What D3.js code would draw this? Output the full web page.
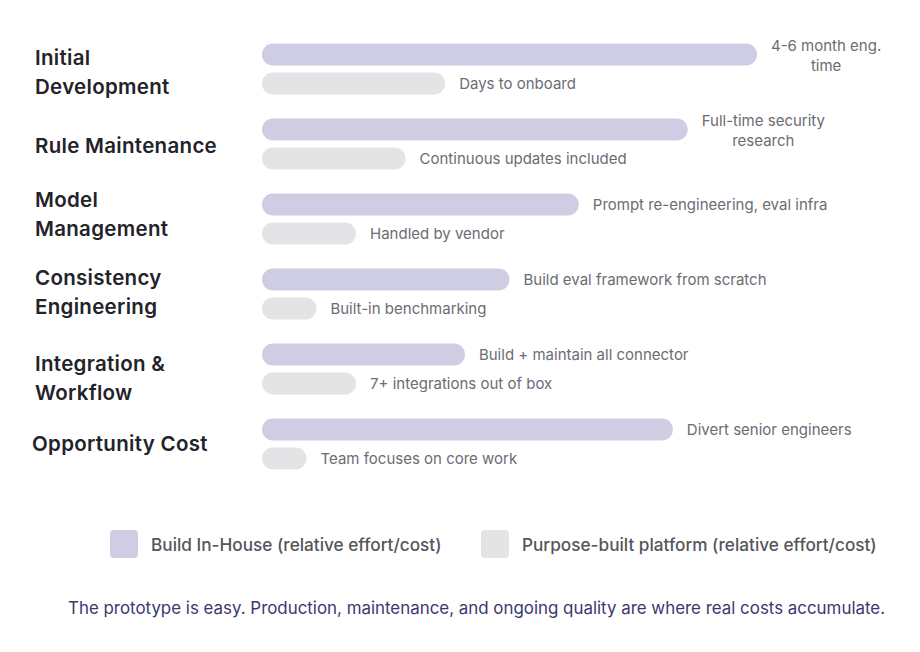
<!DOCTYPE html>
<html>
<head>
<meta charset="utf-8">
<script src="https://cdn.jsdelivr.net/npm/d3@7"></script>
<style>
  body { margin: 0; background: #fff; }
  svg { display: block; font-family: Inter, "Open Sans", sans-serif; }
</style>
</head>
<body>
<svg id="chart"></svg>
<script>
// categories (line breaks as in the picture)
const categories = [
  "Initial\nDevelopment",
  "Rule Maintenance",
  "Model\nManagement",
  "Consistency\nEngineering",
  "Integration &\nWorkflow",
  "Opportunity Cost"
];
// relative effort / cost
const buildValues = [100, 86, 64, 50, 41, 83];
const platformValues = [37, 29, 19, 11, 19, 9];
const buildNotes = [
  "4-6 month eng.\ntime",
  "Full-time security\nresearch",
  "Prompt re-engineering, eval infra",
  "Build eval framework from scratch",
  "Build + maintain all connector",
  "Divert senior engineers"
];
const platformNotes = [
  "Days to onboard",
  "Continuous updates included",
  "Handled by vendor",
  "Built-in benchmarking",
  "7+ integrations out of box",
  "Team focuses on core work"
];
const seriesNames = [
  "Build In-House (relative effort/cost)",
  "Purpose-built platform (relative effort/cost)"
];
const footnote = "The prototype is easy. Production, maintenance, and ongoing quality are where real costs accumulate.";

const width = 920, height = 652;
const colors = ["#cfcde3", "#e4e4e6"];
const barH = 22;
// small nudges of the category labels, as laid out in the original
const labelShift = [3, 2, -5, -2, 9, 0];

const svg = d3.select("#chart").attr("width", width).attr("height", height);

const rows = categories.map((c, i) => ({
  cat: c, build: buildValues[i], platform: platformValues[i],
  buildNote: buildNotes[i], platformNote: platformNotes[i]
}));

const yScale = d3.scalePoint()
  .domain(categories)
  .range([69, 444]);

const xScale = d3.scaleLinear()
  .domain([0, 100])
  .range([262, 757]);

// category labels
const catG = svg.append("g");
rows.forEach((d, i) => {
  const lines = d.cat.split("\n");
  const cy = yScale(d.cat) + labelShift[i];
  const t = catG.append("text")
    .attr("font-size", 20.5)
    .attr("font-weight", 600)
    .attr("letter-spacing", 0.3)
    .attr("fill", "#232329");
  lines.forEach((l, j) => {
    t.append("tspan")
      .attr("x", i === 5 ? 32 : 35)
      .attr("y", cy + (j - (lines.length - 1) / 2) * 29)
      .attr("dy", "0.35em")
      .text(l);
  });
});

const offsets = [-14.5, 14.5];
const keys = ["build", "platform"];
const noteKeys = ["buildNote", "platformNote"];

keys.forEach((k, s) => {
  const g = svg.append("g");
  g.selectAll("rect")
    .data(rows)
    .join("rect")
    .attr("x", xScale(0))
    .attr("y", d => yScale(d.cat) + offsets[s] - barH / 2)
    .attr("width", d => xScale(d[k]) - xScale(0))
    .attr("height", barH)
    .attr("rx", barH / 2)
    .attr("fill", colors[s]);

  rows.forEach(d => {
    const lines = d[noteKeys[s]].split("\n");
    const cy = yScale(d.cat) + offsets[s];
    const x0 = xScale(d[k]) + 14;
    const t = g.append("text")
      .attr("font-size", 15)
      .attr("fill", "#6c6c72");
    const spans = lines.map((l, j) => t.append("tspan")
      .attr("x", x0)
      .attr("y", cy + (j - (lines.length - 1) / 2) * 20 + (lines.length > 1 ? 1 : 0))
      .attr("dy", "0.35em")
      .text(l));
    if (lines.length > 1) {
      const w = d3.max(spans, sp => sp.node().getComputedTextLength());
      spans.forEach(sp => sp.attr("x", x0 + w / 2).attr("text-anchor", "middle"));
    }
  });
});

// legend
const legendX = [110, 481];
const legend = svg.append("g");
seriesNames.forEach((n, i) => {
  legend.append("rect")
    .attr("x", legendX[i]).attr("y", 530)
    .attr("width", 28).attr("height", 28)
    .attr("rx", 4)
    .attr("fill", colors[i]);
  legend.append("text")
    .attr("x", legendX[i] + 41).attr("y", 545)
    .attr("dy", "0.35em")
    .attr("font-size", 17.2)
    .attr("font-weight", 500)
    .attr("fill", "#55555b")
    .text(n);
});

svg.append("text")
  .attr("x", 68).attr("y", 608)
  .attr("dy", "0.35em")
  .attr("font-size", 16.9)
  .attr("fill", "#3b386e")
  .text(footnote);
</script>
</body>
</html>
